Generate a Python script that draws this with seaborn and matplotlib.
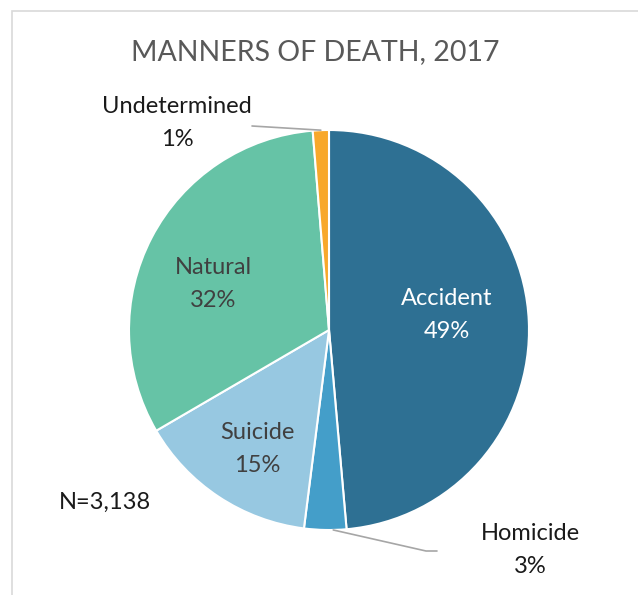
import numpy as np
import matplotlib
matplotlib.use("Agg")
import matplotlib.pyplot as plt
import seaborn as sns
from matplotlib.patches import Rectangle

# manners of death, 2017 (percent of N=3,138)
manners = ["Accident", "Homicide", "Suicide", "Natural", "Undetermined"]
shares = [48.6, 3.4, 14.6, 32.1, 1.3]
colors = ["#2e7093", "#449ec9", "#97c8e1", "#66c3a6", "#f8a82b"]
pct_labels = ["49%", "3%", "15%", "32%", "1%"]

sns.set_theme(style="white")
plt.rcParams["font.family"] = ["Lato", "DejaVu Sans"]

fig = plt.figure(figsize=(6.38, 5.95), dpi=100)
fig.patch.set_facecolor("white")

# chart frame (cut off on the right and bottom)
fig.patches.append(Rectangle((12 / 638, -0.1), 1.2, (595 - 11) / 595 + 0.1,
                             transform=fig.transFigure, fill=False,
                             edgecolor="#d9d9d9", linewidth=1.2))

fig.text(315 / 638, 1 - 52 / 595, "MANNERS OF DEATH, 2017", ha="center", va="center",
         fontsize=20.5, color="#595959")

ax = fig.add_axes([(329 - 200) / 638, (595 - 330 - 200) / 595, 400 / 638, 400 / 595])
wedges, _ = ax.pie(shares, colors=colors, startangle=90, counterclock=False,
                   wedgeprops=dict(edgecolor="white", linewidth=1.5))
ax.set_xlim(-1, 1)
ax.set_ylim(-1, 1)
ax.set_aspect("equal")
ax.axis("off")

def mid_point(w, r=1.0):
    a = np.deg2rad((w.theta1 + w.theta2) / 2)
    return r * np.cos(a), r * np.sin(a)

inside = {"Accident": ((0.59, 0.075), "white"),
          "Natural": ((-0.58, 0.23), "#404040"),
          "Suicide": ((-0.36, -0.595), "#404040")}
outside = {"Homicide": (1.005, -1.1), "Undetermined": (-0.76, 1.035)}

fs = 17
for name, w, pct in zip(manners, wedges, pct_labels):
    if name in inside:
        (x, y), c = inside[name]
        ax.text(x, y, f"{name}\n{pct}", ha="center", va="center", fontsize=fs,
                color=c, linespacing=1.65)
    else:
        x, y = outside[name]
        ax.text(x, y, f"{name}\n{pct}", ha="center", va="center", fontsize=fs,
                color="#1a1a1a", linespacing=1.65, clip_on=False)

# leader lines
ux, uy = mid_point(wedges[4])
ax.plot([-0.385, ux], [1.02, uy], color="#a6a6a6", lw=1.2, clip_on=False)
hx, hy = mid_point(wedges[1])
ax.plot([hx + 0.04, 0.485, 0.54], [hy, -1.105, -1.105], color="#a6a6a6", lw=1.2,
        clip_on=False)

ax.text(-1.12, -0.86, "N=3,138", ha="center", va="center", fontsize=fs,
        color="#1a1a1a", clip_on=False)

fig.savefig("out.png", dpi=100)
